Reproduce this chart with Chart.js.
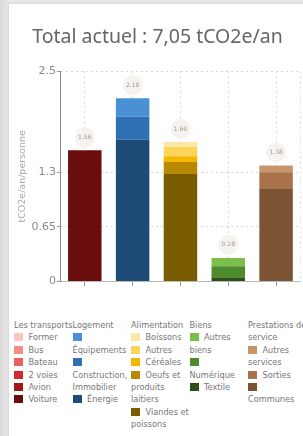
<!DOCTYPE html>
<html>
<head>
<meta charset="utf-8">
<script src="https://cdn.jsdelivr.net/npm/chart.js@4"></script>
<style>
  html, body { margin: 0; padding: 0; }
  body { background: linear-gradient(90deg, #d9d9d9, #e9e9e9 9px); width: 303px; height: 436px; overflow: hidden; position: relative; font-family: "DejaVu Sans", sans-serif; }
  #card { position: absolute; left: 9px; top: 4px; width: 310px; height: 440px; background: #fff; box-shadow: 0 0 3px rgba(0,0,0,0.15); }
  #box { position: absolute; left: 0; top: 0; width: 300px; height: 285px; }
  #legend { position: absolute; left: 5px; top: 315px; display: flex; font-size: 8.2px; color: #777; line-height: 12.4px; }
  .col { width: 58.5px; flex: none; }
  .sw { display: inline-block; width: 9px; height: 8px; margin-right: 5.5px; vertical-align: -1px; }
</style>
</head>
<body>
<div id="card">
  <div id="box"><canvas id="barChart"></canvas></div>
  <div id="legend"></div>
</div>
<script>
// categories (columns) and their sub-categories, top-to-bottom as in the legend
const categories = ["Les transports", "Logement", "Alimentation", "Biens", "Prestations de service"];
const transportLabels = ["Former", "Bus", "Bateau", "2 voies", "Avion", "Voiture"];
const transportValues = [0, 0, 0, 0, 0, 1.56];
const transportColors = ["#ffc4c4", "#f98a85", "#ec5f5f", "#d12a2a", "#a11616", "#6b0d0d"];
const logementLabels = ["Équipements", "Construction, Immobilier", "Énergie"];
const logementValues = [0.22, 0.27, 1.69];
const logementColors = ["#4a90d4", "#2e70b3", "#1f4b77"];
const alimLabels = ["Boissons", "Autres", "Céréales", "Oeufs et produits laitiers", "Viandes et poissons"];
const alimValues = [0.06, 0.11, 0.07, 0.14, 1.28];
const alimColors = ["#fde7a6", "#fdd35a", "#f4b700", "#b88900", "#7a5c00"];
const biensLabels = ["Autres biens", "Numérique", "Textile"];
const biensValues = [0.10, 0.14, 0.04];
const biensColors = ["#7bbf4a", "#4f8a2f", "#2e4f1c"];
const prestLabels = ["Autres services", "Sorties", "Communes"];
const prestValues = [0.08, 0.20, 1.10];
const prestColors = ["#c8946a", "#a9724b", "#7b5435"];
const totals = [1.56, 2.18, 1.66, 0.28, 1.38];
const yTicks = [0, 0.65, 1.3, 2.5];

const groups = [
  [transportLabels, transportValues, transportColors],
  [logementLabels, logementValues, logementColors],
  [alimLabels, alimValues, alimColors],
  [biensLabels, biensValues, biensColors],
  [prestLabels, prestValues, prestColors],
];

// one dataset per sub-category, last legend entry sits at the bottom of the stack
const datasets = [];
groups.forEach((g, ci) => {
  for (let i = g[0].length - 1; i >= 0; i--) {
    const data = categories.map((c, k) => (k === ci ? g[1][i] : null));
    datasets.push({ label: g[0][i], data: data, backgroundColor: g[2][i], stack: "s" });
  }
});

// little round badges with the total above every bar
const badges = {
  id: "badges",
  afterDatasetsDraw(chart) {
    const ctx = chart.ctx;
    const x = chart.scales.x, y = chart.scales.y;
    ctx.save();
    // dashed line on the right edge
    ctx.strokeStyle = "#ddd";
    ctx.setLineDash([2, 3]);
    ctx.beginPath();
    ctx.moveTo(chart.chartArea.right + 0.5, chart.chartArea.top);
    ctx.lineTo(chart.chartArea.right + 0.5, chart.chartArea.bottom);
    ctx.stroke();
    ctx.setLineDash([]);
    totals.forEach((t, i) => {
      const cx = x.getPixelForValue(i);
      const cy = y.getPixelForValue(t) - 13;
      ctx.fillStyle = "#f6f2ed";
      ctx.beginPath();
      ctx.arc(cx, cy, 10, 0, Math.PI * 2);
      ctx.fill();
      ctx.fillStyle = "#a09a94";
      ctx.font = "6px 'DejaVu Sans'";
      ctx.textAlign = "center";
      ctx.textBaseline = "middle";
      ctx.fillText(t.toFixed(2), cx, cy);
    });
    ctx.restore();
  },
};

const barChart = document.querySelector("#barChart");
const myChart = new Chart(barChart, {
  type: "bar",
  data: { labels: categories, datasets: datasets },
  options: {
    responsive: true,
    maintainAspectRatio: false,
    animation: false,
    layout: { padding: { left: 6, right: 9, top: 0, bottom: 0 } },
    datasets: { bar: { categoryPercentage: 0.7, barPercentage: 1, skipNull: false } },
    scales: {
      x: {
        stacked: true,
        grid: { offset: false, color: "#d8d8d8", tickColor: "#999", tickLength: 5, tickBorderDash: [] },
        border: { color: "#bbb", dash: [2, 3] },
        ticks: { display: false },
      },
      y: {
        stacked: true,
        min: 0,
        max: 2.5,
        afterBuildTicks: (axis) => { axis.ticks = yTicks.map((v) => ({ value: v })); },
        grid: { color: "#d8d8d8", tickColor: "#999", tickLength: 4, tickBorderDash: [] },
        border: { color: "#888", dash: [2, 3] },
        ticks: { color: "#888", font: { family: "DejaVu Sans", size: 11 }, padding: 1, callback: (v) => String(v) },
        title: { display: true, text: "tCO2e/an/personne", color: "#aaa", font: { family: "DejaVu Sans", size: 9.5 }, padding: 2 },
      },
    },
    plugins: {
      legend: { display: false },
      tooltip: { enabled: false },
      title: {
        display: true,
        text: "Total actuel : 7,05 tCO2e/an",
        color: "#666",
        font: { family: "Noto Sans", size: 19.5, weight: "normal" },
        padding: { top: 22, bottom: 22 },
      },
    },
  },
  plugins: [badges],
});

// grouped legend in columns
const legend = document.querySelector("#legend");
groups.forEach((g, ci) => {
  const col = document.createElement("div");
  col.className = "col";
  const head = document.createElement("div");
  head.textContent = categories[ci];
  col.appendChild(head);
  g[0].forEach((lab, i) => {
    const it = document.createElement("div");
    const sw = document.createElement("span");
    sw.className = "sw";
    sw.style.background = g[2][i];
    it.appendChild(sw);
    it.appendChild(document.createTextNode(lab));
    col.appendChild(it);
  });
  legend.appendChild(col);
});
</script>
</body>
</html>
